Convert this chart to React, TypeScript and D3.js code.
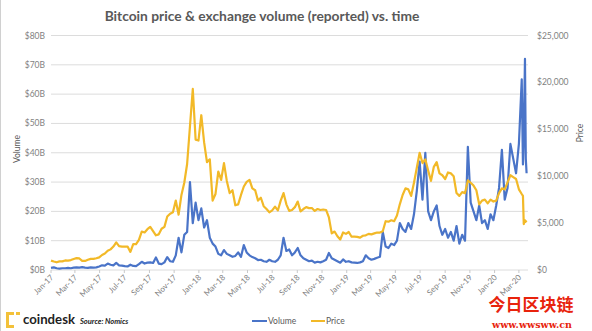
import React from "react";
import * as d3 from "d3";

// ---- data (weekly samples from 2017-01-01, then a short daily tail) ----
const START = "2017-01-01";
const END = "2020-03-21";

const weeklyPrice = [
  1000, 900, 820, 920, 920, 1020, 1000, 1060, 1180, 1270,
  1230, 970, 970, 1100, 1190, 1180, 1250, 1350, 1600, 1750,
  2050, 2200, 2500, 2950, 2550, 2500, 2500, 2500, 1930, 2750,
  2750, 3220, 4100, 4000, 4350, 4600, 4150, 3700, 3800, 4400,
  4600, 5700, 6000, 6150, 7400, 5900, 8000, 9300, 11300, 15300,
  19300, 13900, 13800,
  16500, 13600, 11500, 11800, 7400, 8100, 10500,
  9600, 11400, 9500, 8200, 8500, 6900, 7000, 8000, 8900, 9400,
  9600, 8700, 8500, 7400, 7700, 6800, 6500, 6150, 6350, 6750,
  6350, 7400, 8200, 7000, 6300, 6400, 6700, 7300, 6250, 6500,
  6700, 6600, 6600, 6300, 6500, 6400, 6450, 6400, 5600, 3900,
  4100, 3600, 3250, 4000, 3850,
  4050, 3550, 3550, 3530, 3450,
  3650, 3700, 3850, 3800, 3900, 4000, 3990, 4130, 5200, 5150,
  5300, 5200, 5800, 7000, 8000, 8700, 8600, 7900, 9300, 10900,
  12500, 11400, 11800, 10600, 9500, 11000, 11500, 10300, 10100, 9700,
  10400, 10300, 10000, 8200, 7900, 8300, 8200, 9550, 9300, 9000,
  8500, 7000, 7400, 7500, 7100, 7500, 7300,
  7400, 8200, 8700, 8600, 9350, 10100, 9900, 9700, 8600, 8100,
];

const weeklyVolume = [
  0.7, 0.9, 0.6, 0.5, 0.6, 0.6, 0.7, 0.6, 0.8, 0.9,
  0.8, 1.0, 0.8, 0.7, 0.9, 0.8, 0.9, 1.2, 1.6, 1.5,
  2.2, 1.8, 1.6, 2.4, 1.6, 1.5, 1.3, 1.2, 1.8, 1.4,
  1.3, 2.0, 2.8, 2.2, 2.5, 2.6, 2.4, 4.3, 2.2, 2.0,
  2.6, 4.4, 3.0, 2.8, 5.0, 11, 6.0, 12, 13, 30,
  16, 23, 17,
  21, 14.5, 17, 11, 9, 8, 5.5,
  5, 6.8, 5.5, 5, 4.5, 4.8, 6, 4.5, 8.5, 6,
  5, 4.4, 4, 3.4, 3.5, 3, 2.8, 3.5, 3, 2.8,
  3.5, 5, 11, 6.5, 7, 5, 6, 7.5, 5, 4,
  3.5, 3, 3.2, 2.5, 2.8, 2.6, 3, 3.5, 5.8, 4,
  3.5, 3, 2.5, 3.6, 2.8,
  3, 2.6, 2.5, 2.4, 2.6,
  3, 5, 4, 3.5, 3.8, 4.2, 4.5, 13, 8, 7.5,
  9, 8.5, 10, 16, 14, 13, 16, 14, 19, 27,
  37, 24, 40, 20, 17, 20, 22, 15, 12, 14,
  11, 13, 10, 15, 9, 12, 10, 42, 23, 20,
  17, 22, 16, 17, 14, 19, 17,
  22, 28, 41, 24, 28, 43, 38, 33, 43, 65,
];

const tailDates = ["2020-03-11", "2020-03-13", "2020-03-16", "2020-03-18", "2020-03-20"];
const tailPrice = [7900, 4900, 5300, 5200, 5100];
const tailVolume = [36, 45, 72, 38, 33];

const volumeTicks = [0, 10, 20, 30, 40, 50, 60, 70, 80];
const priceTicks = [0, 5000, 10000, 15000, 20000, 25000];
const xTickLabels = [
  "Jan-17", "Mar-17", "May-17", "Jul-17", "Sep-17", "Nov-17",
  "Jan-18", "Mar-18", "May-18", "Jul-18", "Sep-18", "Nov-18",
  "Jan-19", "Mar-19", "May-19", "Jul-19", "Sep-19", "Nov-19",
  "Jan-20", "Mar-20",
];

const BLUE = "#4a74c8";
const GOLD = "#f2b928";
const AXIS_TEXT = "#7f7f7f";
const FONT = "Lato, 'Open Sans', sans-serif";

export default function App() {
  const W = 592;
  const H = 331;
  const parse = d3.utcParse("%Y-%m-%d");
  const start = parse(START)!;
  const end = parse(END)!;

  const dates: Date[] = weeklyPrice
    .map((_, i) => d3.utcDay.offset(start, 7 * i))
    .concat(tailDates.map((d) => parse(d)!));
  const prices = weeklyPrice.concat(tailPrice);
  const volumes = weeklyVolume.concat(tailVolume);

  const left = 51;
  const right = 527;
  const top = 35.5;
  const bottom = 270;

  const x = d3.scaleUtc().domain([start, end]).range([left, right]);
  const yV = d3.scaleLinear().domain([0, 80]).range([bottom, top]);
  const yP = d3.scaleLinear().domain([0, 25000]).range([bottom, top]);

  const volLine = d3
    .line<number>()
    .x((_, i) => x(dates[i]))
    .y((v) => yV(v));
  const priceLine = d3
    .line<number>()
    .x((_, i) => x(dates[i]))
    .y((v) => yP(v));

  const tickDates = xTickLabels.map((_, i) => d3.utcMonth.offset(start, 2 * i));
  const fmtPrice = d3.format(",");

  return (
    <div style={{ position: "fixed", left: 0, top: 0, width: W, height: H, background: "#fff" }}>
      <svg width={W} height={H} style={{ display: "block" }}>
        <rect x={0} y={0} width={W} height={H} fill="#fff" />
        <line x1={0.5} y1={0} x2={0.5} y2={H} stroke="#d0d0d0" />

        <text
          x={262}
          y={21}
          textAnchor="middle"
          fontFamily={FONT}
          fontWeight={700}
          fontSize={13.8}
          fill="#595959"
        >
          Bitcoin price &amp; exchange volume (reported) vs. time
        </text>

        {/* gridlines */}
        {volumeTicks.map((t) => (
          <line key={t} x1={left} x2={right + 1} y1={yV(t)} y2={yV(t)} stroke="#dcdcdc" strokeWidth={1} />
        ))}
        {/* x ticks */}
        {tickDates.map((d, i) => (
          <line key={i} x1={x(d)} x2={x(d)} y1={bottom} y2={bottom + 3} stroke="#c8c8c8" />
        ))}

        {/* left axis labels */}
        {volumeTicks.map((t) => (
          <text
            key={t}
            x={45}
            y={yV(t) + 3}
            textAnchor="end"
            fontFamily={FONT}
            fontSize={8.5}
            fill={AXIS_TEXT}
          >
            {`$${t}B`}
          </text>
        ))}
        {/* right axis labels */}
        {priceTicks.map((t) => (
          <text key={t} x={537} y={yP(t) + 3} fontFamily={FONT} fontSize={8.5} fill={AXIS_TEXT}>
            {`$${fmtPrice(t)}`}
          </text>
        ))}
        {/* x labels */}
        {tickDates.map((d, i) => (
          <text
            key={i}
            transform={`translate(${x(d) + 3},${bottom + 8}) rotate(-45)`}
            textAnchor="end"
            fontFamily={FONT}
            fontSize={8}
            fill={AXIS_TEXT}
          >
            {xTickLabels[i]}
          </text>
        ))}

        {/* axis titles */}
        <text
          transform={`translate(20,149) rotate(-90)`}
          textAnchor="middle"
          fontFamily={FONT}
          fontSize={8.5}
          fill="#595959"
        >
          Volume
        </text>
        <text
          transform={`translate(583,133) rotate(-90)`}
          textAnchor="middle"
          fontFamily={FONT}
          fontSize={8.5}
          fill="#595959"
        >
          Price
        </text>

        {/* series */}
        <path d={volLine(volumes) ?? ""} fill="none" stroke={BLUE} strokeWidth={2.2} strokeLinejoin="round" />
        <path d={priceLine(prices) ?? ""} fill="none" stroke={GOLD} strokeWidth={2.2} strokeLinejoin="round" />

        {/* legend */}
        <line x1={252} x2={267} y1={321} y2={321} stroke={BLUE} strokeWidth={2} />
        <text x={268} y={324} fontFamily={FONT} fontSize={8.5} fill="#595959">
          Volume
        </text>
        <line x1={311} x2={325} y1={321} y2={321} stroke={GOLD} strokeWidth={2} />
        <text x={326} y={324} fontFamily={FONT} fontSize={8.5} fill="#595959">
          Price
        </text>

        {/* coindesk logo */}
        <g fill="#f3c13a">
          <rect x={6} y={312} width={3} height={16} />
          <rect x={9} y={312} width={5} height={3} />
          <rect x={9} y={325} width={5} height={3} />
          <rect x={16} y={312} width={4} height={3} />
        </g>
        <text x={23} y={324} fontFamily={FONT} fontWeight={700} fontSize={13.2} fill="#1f1f1f">
          coindesk
        </text>
        <text
          x={80}
          y={324}
          fontFamily={FONT}
          fontWeight={700}
          fontStyle="italic"
          fontSize={7.5}
          fill="#222"
        >
          Source: Nomics
        </text>

        {/* watermark */}
        <text
          x={531}
          y={311}
          textAnchor="middle"
          fontFamily="'Noto Sans CJK SC', sans-serif"
          fontWeight={700}
          fontSize={17}
          fill="#e8230c"
        >
          今日区块链
        </text>
        <text
          x={532}
          y={328}
          textAnchor="middle"
          fontFamily="'DejaVu Serif', 'Liberation Serif', serif"
          fontWeight={700}
          fontSize={9.5}
          fill="#e8230c"
        >
          www.wwsww.cn
        </text>
      </svg>
    </div>
  );
}
